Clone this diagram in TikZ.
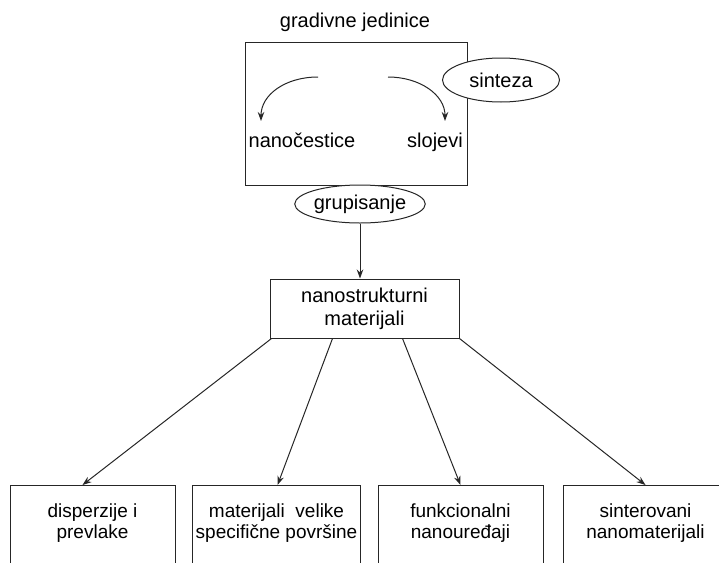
\documentclass[tikz,border=0pt]{standalone}
\usepackage{fontspec}
\setmainfont{Liberation Sans}
\usetikzlibrary{arrows,arrows.meta,shapes.geometric,positioning}
\tikzset{
    >={Stealth[length=9pt,width=6.5pt]},
    okvir/.style={
        rectangle,
        draw=black!85, line width=1pt,
        align=center
    },
    elipsa/.style={
        ellipse,
        draw=black!85, line width=1pt,
        fill=white,
        inner sep=0pt
    },
    grana/.style={draw=black!85, line width=1pt, ->},
    tekst/.style={font=\fontsize{20}{23}\selectfont},
    donji/.style={
        okvir,
        anchor=north,
        font=\fontsize{19}{21.5}\selectfont,
        minimum width=165pt,
        inner ysep=18pt,
        text depth=60pt
    }
}

\begin{document}
\begin{tikzpicture}[x=1pt, y=-1pt]
    \useasboundingbox (0,0) rectangle (719,562);
    \clip (0,0) rectangle (719,562);
    % gornji dio
    \node[okvir, minimum width=222pt, minimum height=143pt] (jedinice) at (356,113.5) {};
    \node[tekst] (naslov) at (355,22) {gradivne jedinice};
    \node[tekst, anchor=base] (cestice) at (302,147) {nanočestice};
    \node[tekst, anchor=base] (slojevi) at (435,147) {slojevi};
    \coordinate (lpoc) at (318,77);
    \coordinate (lkraj) at (261,121);
    \coordinate (dpoc) at (388,77);
    \coordinate (dkraj) at (445,121);
    \draw[grana] (lpoc) .. controls (285,77) and (261,95) .. (lkraj);
    \draw[grana] (dpoc) .. controls (420,77) and (445,95) .. (dkraj);
    \node[elipsa, tekst, minimum width=117pt, minimum height=44pt] (sinteza) at (501,80) {sinteza};
    \node[elipsa, tekst, minimum width=127pt, minimum height=38pt] (grupisanje) at (360,204) {grupisanje};
    % srednji dio
    \node[okvir, tekst, minimum width=189pt, minimum height=59pt] (nano) at (364.5,308.5) {nanostrukturni\\materijali};
    \draw[grana] (grupisanje.south) -- (grupisanje.south |- nano.north);
    % donji red
    \node[donji] (disp) at (92.5,485) {disperzije i\\prevlake};
    \node[donji] (povr) at (276.5,485) {materijali\ \ velike\\specifične površine};
    \node[donji] (funk) at (460.5,485) {funkcionalni\\nanouređaji};
    \node[donji] (sint) at (645.5,485) {sinterovani\\nanomaterijali};
    \draw[grana] ([xshift=2pt]nano.south west) -- ([xshift=-10pt]disp.north);
    \draw[grana] ([xshift=63pt]nano.south west) -- ([xshift=1pt]povr.north);
    \draw[grana] ([xshift=133pt]nano.south west) -- (funk.north);
    \draw[grana] (nano.south east) -- (sint.north);
\end{tikzpicture}
\end{document}
